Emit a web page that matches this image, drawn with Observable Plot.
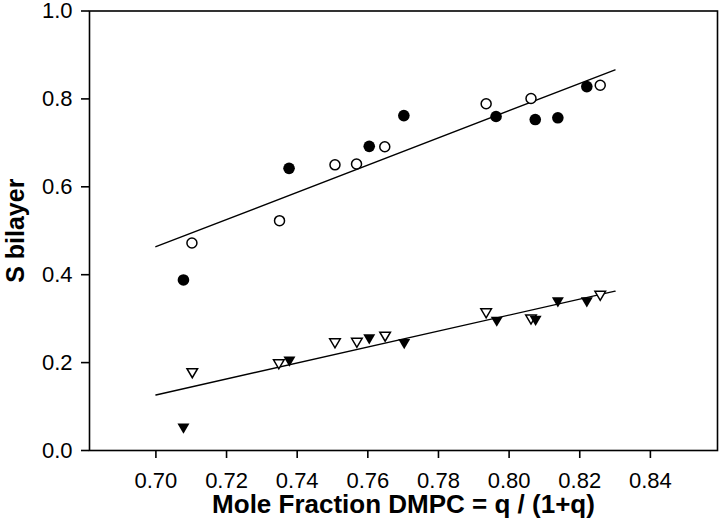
<!DOCTYPE html>
<html><head><meta charset="utf-8">
<script src="https://cdn.jsdelivr.net/npm/d3@7"></script>
<script src="https://cdn.jsdelivr.net/npm/@observablehq/plot@0.6"></script>
<style>body{margin:0;background:#fff}</style>
</head><body><div id="chart"></div>
<script>
// ---- data ----
const filledCircleX = [0.7078, 0.7377, 0.7604, 0.7702, 0.7963, 0.8074, 0.8138, 0.8220];
const filledCircleY = [0.388, 0.642, 0.692, 0.762, 0.760, 0.753, 0.757, 0.828];
const openCircleX = [0.7102, 0.7350, 0.7507, 0.7568, 0.7648, 0.7935, 0.8062, 0.8258];
const openCircleY = [0.472, 0.523, 0.650, 0.652, 0.691, 0.789, 0.801, 0.831];
const filledTriX = [0.7078, 0.7378, 0.7604, 0.7703, 0.7965, 0.8075, 0.8138, 0.8220];
const filledTriY = [0.050, 0.202, 0.253, 0.242, 0.293, 0.295, 0.337, 0.337];
const openTriX = [0.7103, 0.7348, 0.7507, 0.7569, 0.7649, 0.7935, 0.8062, 0.8258];
const openTriY = [0.176, 0.196, 0.244, 0.245, 0.259, 0.312, 0.298, 0.352];
const fitX = [0.70, 0.83];
const upperFitY = [0.4638, 0.866];
const lowerFitY = [0.1264, 0.3626];
const xTicks = [0.70, 0.72, 0.74, 0.76, 0.78, 0.80, 0.82, 0.84];
const yTicks = [0.0, 0.2, 0.4, 0.6, 0.8, 1.0];
const xTitle = "Mole Fraction DMPC = q / (1+q)";
const yTitle = "S bilayer";

const pts = (xs, ys) => xs.map((x, i) => ({x, y: ys[i]}));

// downward-pointing triangle symbol
const triangleDown = {
  draw(context, size) {
    const r = Math.sqrt(size / Math.PI);
    const w = r, h = r * 0.85;
    context.moveTo(-w, -h);
    context.lineTo(w, -h);
    context.lineTo(0, h);
    context.closePath();
  }
};

const chart = Plot.plot({
  width: 720,
  height: 526,
  marginLeft: 89,
  marginRight: 3,
  marginTop: 10.5,
  marginBottom: 76,
  style: {fontFamily: "'Liberation Sans', Arial, sans-serif", fontSize: "22px", color: "black", background: "white"},
  x: {domain: [0.6812, 0.859]},
  y: {domain: [0, 1]},
  marks: [
    Plot.line(pts(fitX, upperFitY), {x: "x", y: "y", stroke: "black", strokeWidth: 1.4}),
    Plot.line(pts(fitX, lowerFitY), {x: "x", y: "y", stroke: "black", strokeWidth: 1.4}),
    Plot.dot(pts(openCircleX, openCircleY), {x: "x", y: "y", r: 5, fill: "white", stroke: "black", strokeWidth: 1.5}),
    Plot.dot(pts(filledCircleX, filledCircleY), {x: "x", y: "y", r: 5.8, fill: "black", stroke: "none"}),
    Plot.dot(pts(openTriX, openTriY), {x: "x", y: "y", r: 5.3, symbol: triangleDown, fill: "white", stroke: "black", strokeWidth: 1.5}),
    Plot.dot(pts(filledTriX, filledTriY), {x: "x", y: "y", r: 6, symbol: triangleDown, fill: "black", stroke: "none"}),
    Plot.frame({stroke: "black", strokeWidth: 1.6}),
    Plot.axisX({ticks: xTicks, tickFormat: ".2f", tickSize: 8, tickPadding: 14, fontSize: 22, label: null, strokeWidth: 1.6}),
    Plot.axisY({ticks: yTicks, tickFormat: ".1f", tickSize: 8, tickPadding: 9, fontSize: 22, label: null, strokeWidth: 1.6}),
    Plot.text([xTitle], {text: d => d, frameAnchor: "bottom", textAnchor: "middle", lineAnchor: "bottom", dy: 62, fontWeight: "bold", fontSize: 26}),
    Plot.text([yTitle], {text: d => d, frameAnchor: "left", textAnchor: "middle", lineAnchor: "middle", rotate: -90, dx: -74, fontWeight: "bold", fontSize: 25})
  ]
});
document.getElementById("chart").appendChild(chart);
</script>
</body></html>
